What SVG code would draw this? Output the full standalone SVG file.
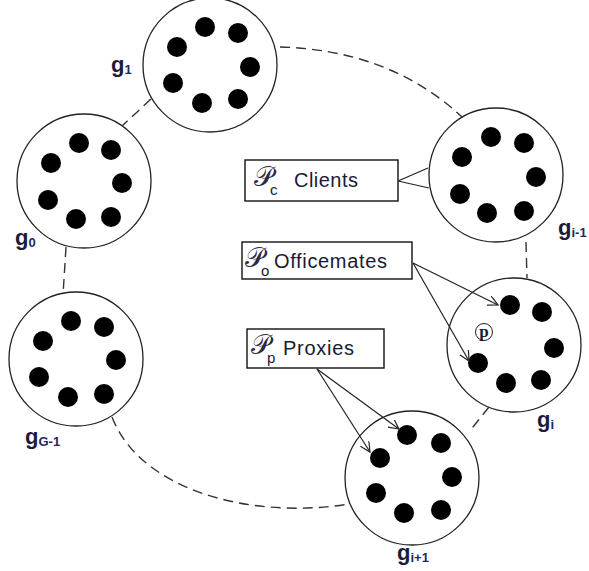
<svg xmlns="http://www.w3.org/2000/svg" width="589" height="571" viewBox="0 0 589 571">
<style>
.grp{fill:#fff;stroke:#222;stroke-width:1.3}
.dot{fill:#000}
.dash{fill:none;stroke:#333;stroke-width:1.4;stroke-dasharray:10 6}
.ln{fill:none;stroke:#222;stroke-width:1.2}
.box{fill:#fff;stroke:#111;stroke-width:1.4}
.lbl{font-family:"Liberation Sans",Arial,sans-serif;font-weight:bold;font-size:22px;fill:#1c1c38}
.sub{font-size:13px;fill:#1f2a5c}
.bt{font-family:"Liberation Sans",Arial,sans-serif;font-size:20px;fill:#1a1a33}
.P{font-family:"DejaVu Serif","Noto Sans",serif;font-size:27px;fill:#2a2a44}
.ps{font-family:"Liberation Sans",Arial,sans-serif;font-size:15px;fill:#1a1a33}
</style>
<defs>
<marker id="arr" markerWidth="12" markerHeight="12" refX="10" refY="5" orient="auto" markerUnits="userSpaceOnUse">
<path d="M0,0 L10,5 L0,10" fill="none" stroke="#222" stroke-width="1.2"/>
</marker>
</defs>
<g id="g1">
<circle class="grp" cx="210" cy="65" r="67"/>
<circle class="dot" cx="205" cy="27" r="10"/><circle class="dot" cx="238" cy="33" r="10"/><circle class="dot" cx="177" cy="47" r="10"/><circle class="dot" cx="250" cy="67" r="10"/><circle class="dot" cx="173" cy="83" r="10"/><circle class="dot" cx="202" cy="103" r="10"/><circle class="dot" cx="238" cy="99" r="10"/>
<text class="lbl" x="111" y="72">g<tspan class="sub" dy="2">1</tspan></text>
</g>
<g id="g0">
<circle class="grp" cx="84" cy="181" r="67"/>
<circle class="dot" cx="79" cy="143" r="10"/><circle class="dot" cx="111" cy="150" r="10"/><circle class="dot" cx="51" cy="163" r="10"/><circle class="dot" cx="122" cy="183" r="10"/><circle class="dot" cx="48" cy="200" r="10"/><circle class="dot" cx="76" cy="219" r="10"/><circle class="dot" cx="111" cy="217" r="10"/>
<text class="lbl" x="15" y="245">g<tspan class="sub" dy="2">0</tspan></text>
</g>
<g id="gG-1">
<circle class="grp" cx="76" cy="359" r="67"/>
<circle class="dot" cx="71" cy="321" r="10"/><circle class="dot" cx="104" cy="327" r="10"/><circle class="dot" cx="43" cy="341" r="10"/><circle class="dot" cx="116" cy="360" r="10"/><circle class="dot" cx="39" cy="377" r="10"/><circle class="dot" cx="68" cy="397" r="10"/><circle class="dot" cx="104" cy="394" r="10"/>
<text class="lbl" x="25" y="444">g<tspan class="sub" dy="2">G-1</tspan></text>
</g>
<g id="gi-1">
<circle class="grp" cx="496" cy="175" r="67"/>
<circle class="dot" cx="491" cy="137" r="10"/><circle class="dot" cx="524" cy="143" r="10"/><circle class="dot" cx="462" cy="157" r="10"/><circle class="dot" cx="536" cy="177" r="10"/><circle class="dot" cx="460" cy="194" r="10"/><circle class="dot" cx="487" cy="213" r="10"/><circle class="dot" cx="524" cy="211" r="10"/>
<text class="lbl" x="558" y="235">g<tspan class="sub" dy="2">i-1</tspan></text>
</g>
<g id="gi">
<circle class="grp" cx="514" cy="345" r="67"/>
<circle class="dot" cx="510" cy="305" r="10"/><circle class="dot" cx="542" cy="312" r="10"/><circle class="dot" cx="478" cy="363" r="10"/><circle class="dot" cx="554" cy="348" r="10"/><circle class="dot" cx="506" cy="383" r="10"/><circle class="dot" cx="541" cy="380" r="10"/>
<circle cx="484" cy="332" r="8.5" fill="#fff" stroke="#222" stroke-width="1"/>
<text x="484" y="337" text-anchor="middle" font-family="Liberation Serif,serif" font-weight="bold" font-size="17" fill="#1a1a33">p</text>
<text class="lbl" x="537" y="427">g<tspan class="sub" dy="2">i</tspan></text>
</g>
<g id="gi+1">
<circle class="grp" cx="412" cy="478" r="67"/>
<circle class="dot" cx="407" cy="435" r="10"/><circle class="dot" cx="441" cy="443" r="10"/><circle class="dot" cx="380" cy="458" r="10"/><circle class="dot" cx="452" cy="477" r="10"/><circle class="dot" cx="376" cy="493" r="10"/><circle class="dot" cx="404" cy="513" r="10"/><circle class="dot" cx="441" cy="510" r="10"/>
<text class="lbl" x="397" y="560">g<tspan class="sub" dy="2">i+1</tspan></text>
</g>
<g id="clients">
<rect class="box" x="245" y="160" width="153" height="41"/>
<text x="254" y="186"><tspan class="P">𝒫</tspan><tspan class="ps" dx="-3" dy="9">c</tspan></text>
<text class="bt" x="294" y="187" textLength="64">Clients</text>
</g>
<g id="officemates">
<rect class="box" x="242" y="242" width="170" height="37"/>
<text x="245" y="267"><tspan class="P">𝒫</tspan><tspan class="ps" dx="-3" dy="9">o</tspan></text>
<text class="bt" x="274" y="268" textLength="113">Officemates</text>
</g>
<g id="proxies">
<rect class="box" x="247" y="329" width="137" height="39"/>
<text x="251" y="354"><tspan class="P">𝒫</tspan><tspan class="ps" dx="-3" dy="9">p</tspan></text>
<text class="bt" x="283" y="355" textLength="71">Proxies</text>
</g>
<g id="connectors">
<path class="dash" d="M151,99 L122,126"/>
<path class="dash" d="M66,247 L63,295"/>
<path class="dash" d="M280,47 Q390,50 462,117"/>
<path class="dash" d="M526,242 L527,278"/>
<path class="dash" d="M489,407 L469,432"/>
<path class="dash" d="M112,417 C140,490 250,520 349,504"/>
<path class="ln" d="M398,181 L428,168 M398,181 L429,188"/>
<path class="ln" d="M413,263 L498,305" marker-end="url(#arr)"/>
<path class="ln" d="M413,263 L469,361" marker-end="url(#arr)"/>
<path class="ln" d="M317,369 L399,429" marker-end="url(#arr)"/>
<path class="ln" d="M317,369 L370,452" marker-end="url(#arr)"/>
</g>
</svg>
